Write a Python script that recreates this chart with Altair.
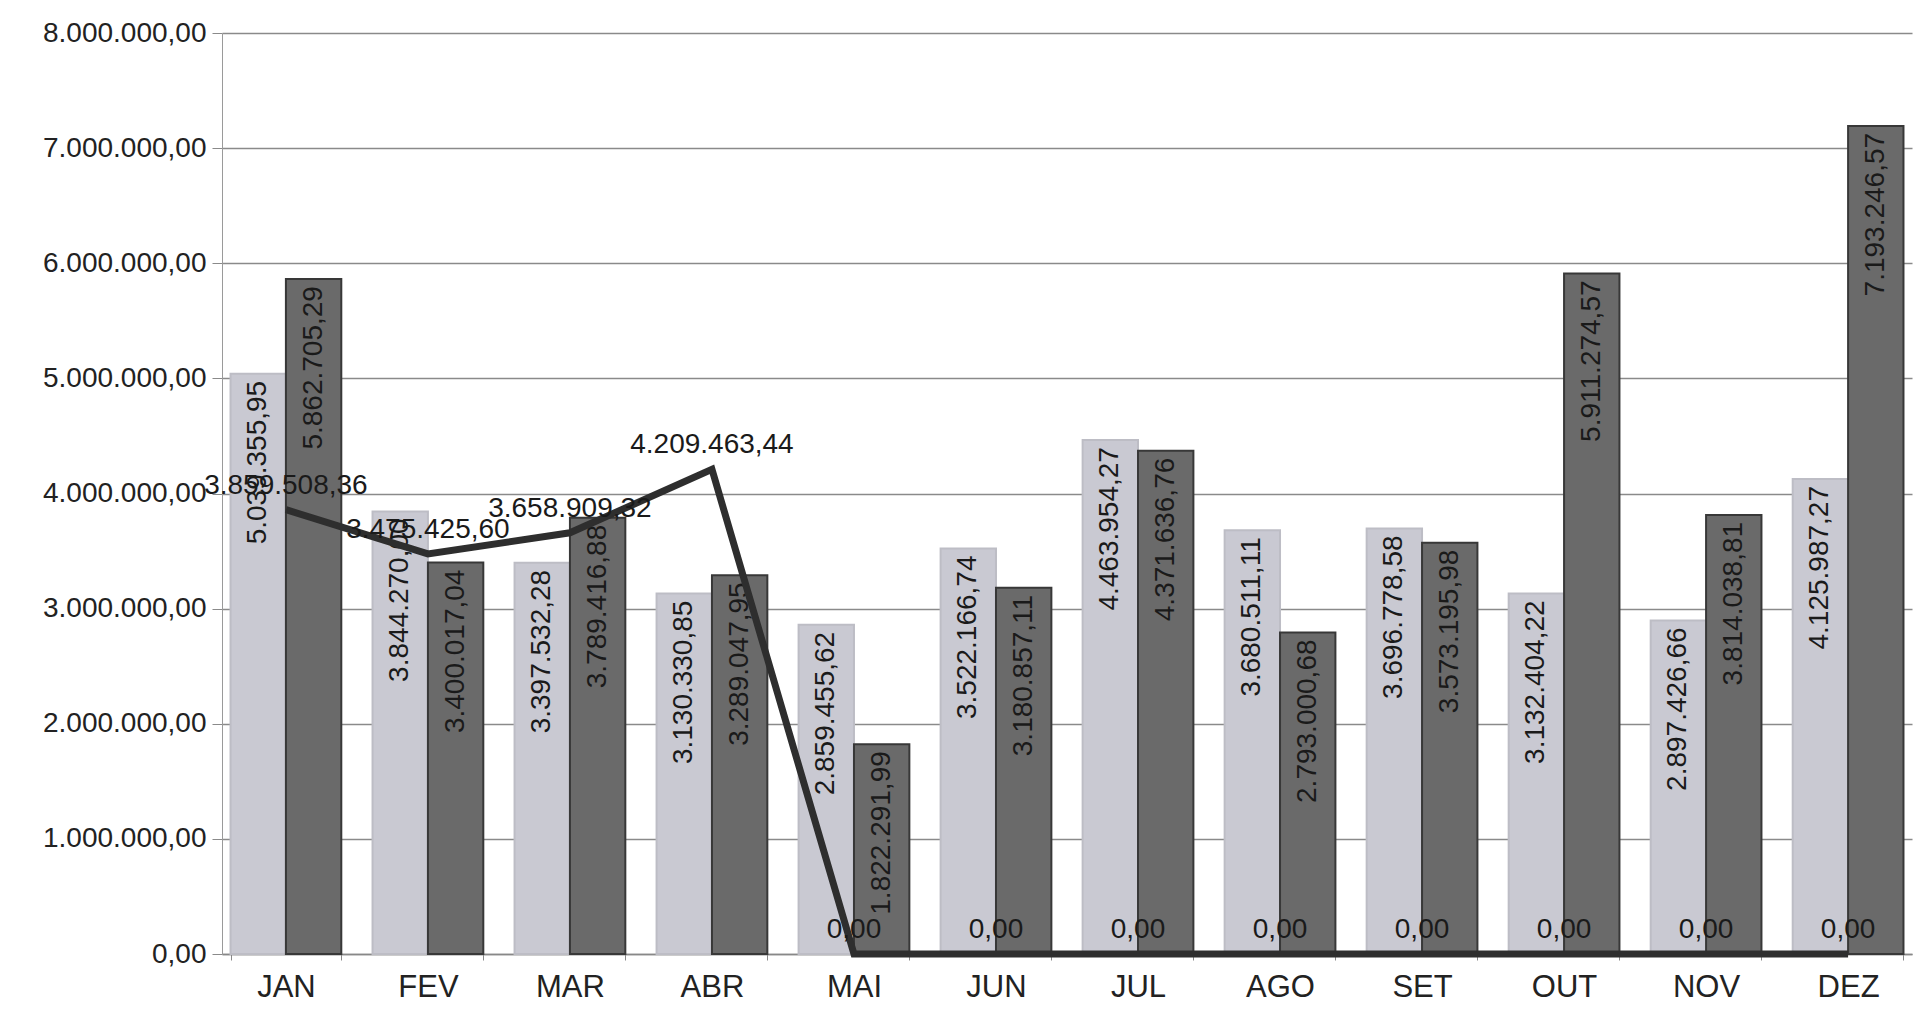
import altair as alt
import pandas as pd

meses = ["JAN", "FEV", "MAR", "ABR", "MAI", "JUN", "JUL", "AGO", "SET", "OUT", "NOV", "DEZ"]
serie_clara = [5039355.95, 3844270.00, 3397532.28, 3130330.85, 2859455.62, 3522166.74,
               4463954.27, 3680511.11, 3696778.58, 3132404.22, 2897426.66, 4125987.27]
serie_escura = [5862705.29, 3400017.04, 3789416.88, 3289047.95, 1822291.99, 3180857.11,
                4371636.76, 2793000.68, 3573195.98, 5911274.57, 3814038.81, 7193246.57]
linha = [3859508.36, 3475425.60, 3658909.32, 4209463.44, 0.00, 0.00,
         0.00, 0.00, 0.00, 0.00, 0.00, 0.00]


def br(v):
    s = f"{v:,.2f}"
    return s.replace(",", "#").replace(".", ",").replace("#", ".")


rows = []
for m, a, b in zip(meses, serie_clara, serie_escura):
    rows.append({"mes": m, "serie": "A", "valor": a, "rot": br(a)})
    rows.append({"mes": m, "serie": "B", "valor": b, "rot": br(b)})
bars_df = pd.DataFrame(rows)
line_df = pd.DataFrame({"mes": meses, "valor": linha, "rot": [br(v) for v in linha]})

FONT = "Liberation Sans"

x_enc = alt.X("mes:N", sort=meses,
              scale=alt.Scale(paddingInner=0.22, paddingOuter=0.06),
              axis=alt.Axis(title=None, labelAngle=0, labelFontSize=31, labelFont=FONT,
                            labelColor="#222222", labelPadding=12, tickBand="extent",
                            tickColor="#888888", tickSize=6, domainColor="#888888",
                            domainWidth=1.5))
y_enc = alt.Y("valor:Q",
              scale=alt.Scale(domain=[0, 8000000], nice=False),
              axis=alt.Axis(title=None, values=list(range(0, 8000001, 1000000)),
                            labelExpr="datum.value == 0 ? '0,00' : format(datum.value/1000000, 'd') + '.000.000,00'",
                            labelFontSize=28, labelFont=FONT, labelColor="#222222",
                            gridColor="#8a8a8a", gridWidth=1.5, tickColor="#8a8a8a",
                            tickSize=10, domainColor="#9a9a9a", labelPadding=6))

color = alt.Color("serie:N", scale=alt.Scale(domain=["A", "B"], range=["#c9c9d2", "#6a6a6a"]),
                  legend=None)
stroke = alt.Stroke("serie:N", scale=alt.Scale(domain=["A", "B"], range=["#bdbdc5", "#383838"]),
                    legend=None)

bars = alt.Chart(bars_df).mark_bar(strokeWidth=2).encode(
    x=x_enc, y=y_enc, xOffset=alt.XOffset("serie:N", sort=["A", "B"]),
    color=color, stroke=stroke)

bar_labels = alt.Chart(bars_df).mark_text(
    angle=270, align="right", baseline="middle", dx=-7, fontSize=28, font=FONT,
    color="#1a1a1a").encode(
    x=alt.X("mes:N", sort=meses), y="valor:Q",
    xOffset=alt.XOffset("serie:N", sort=["A", "B"]), text="rot:N")

line = alt.Chart(line_df).mark_line(color="#2e2e2e", strokeWidth=7).encode(
    x=alt.X("mes:N", sort=meses), y="valor:Q")

line_labels = alt.Chart(line_df).mark_text(
    baseline="bottom", dy=-10, fontSize=28, font=FONT, color="#1a1a1a").encode(
    x=alt.X("mes:N", sort=meses), y="valor:Q", text="rot:N")

chart = alt.layer(bars, bar_labels, line, line_labels).properties(
    width=1690, height=921,
    padding={"left": 34, "top": 11, "right": 5, "bottom": 5},
    background="#ffffff",
).configure_view(stroke=None)

chart.save("out.html", embed_options={"renderer": "svg", "actions": False})
